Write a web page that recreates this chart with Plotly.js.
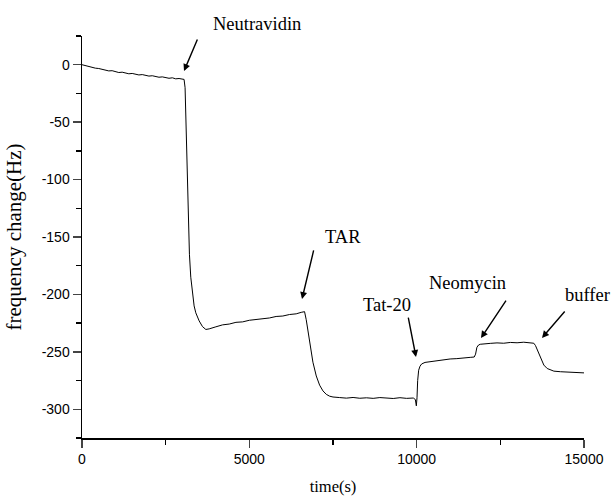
<!DOCTYPE html>
<html>
<head>
<meta charset="utf-8">
<script src="https://cdn.plot.ly/plotly-3.0.1.min.js"></script>
<style>html,body{margin:0;padding:0;background:#fff;}#chart{width:614px;height:496px;}</style>
</head>
<body>
<div id="chart"></div>
<script>
// time (s)
const timeS = [0,100,200,300,400,500,600,700,800,900,1000,1100,1200,1300,1400,1500,1600,1700,1800,1900,2000,2100,2200,2300,2400,2500,2600,2700,2800,2900,3000,3050,3080,3100,3120,3150,3180,3210,3250,3300,3350,3400,3500,3600,3700,3800,3900,4000,4200,4400,4600,4800,5000,5200,5400,5600,5800,6000,6200,6400,6550,6650,6700,6750,6800,6900,7000,7100,7200,7300,7400,7500,7700,7900,8100,8300,8500,8700,8900,9100,9300,9500,9700,9900,9960,9990,10010,10030,10060,10100,10150,10250,10400,10600,10800,11000,11200,11400,11600,11720,11760,11800,11850,11900,12000,12200,12400,12600,12800,13000,13200,13400,13500,13550,13600,13650,13700,13750,13800,13900,14000,14100,14300,14500,14700,14900,15000];
// frequency change (Hz)
const freqHz = [0,-0.8,-1.5,-1.9,-3.0,-3.3,-4.2,-4.6,-5.4,-5.2,-6.1,-6.8,-6.5,-7.4,-7.9,-7.6,-8.5,-8.9,-8.6,-9.5,-9.9,-9.6,-10.5,-10.9,-10.6,-11.5,-11.8,-11.4,-12.3,-12.0,-12.6,-12.8,-20,-45,-75,-110,-140,-165,-185,-200,-210,-216,-223,-228,-230.5,-230,-228.8,-228.2,-226.5,-225.8,-224.3,-223.9,-222.5,-222.0,-220.9,-220.5,-219.2,-218.8,-217.5,-216.9,-215.6,-215.0,-222,-232,-243,-259,-271,-279,-284,-287,-288.6,-289.3,-289.8,-290.3,-289.7,-290.4,-290.0,-290.5,-289.8,-290.3,-290.6,-289.9,-290.5,-290.2,-291.5,-297,-290,-275,-266,-262.5,-260.5,-259.2,-258.5,-257.4,-257.0,-256.2,-255.9,-255.1,-254.8,-254.5,-252,-246,-244,-243.4,-243.0,-242.6,-242.2,-242.5,-241.8,-242.1,-241.6,-241.9,-242.5,-244.5,-248,-252,-256,-259,-261.5,-264.5,-266,-266.8,-267.3,-267.6,-267.9,-268.1,-268.3];

const xTickVals = [0,5000,10000,15000];
const xTickText = ["0","5000","10000","15000"];
const yTickVals = [0,-50,-100,-150,-200,-250,-300];
const yTickText = ["0","-50","-100","-150","-200","-250","-300"];

// annotation labels (label positions as fractions of the plot area)
const labelText = ["Neutravidin","TAR","Tat-20","Neomycin","buffer"];
const labelPX = [0.3486,0.52,0.607,0.767,1.006];
const labelPY = [1.03,0.5,0.33,0.386,0.355];
// arrows in data units
const arrowTipX = [3048,6574,9980,11922,13745];
const arrowTipY = [-5.5,-204,-254.5,-238,-237.9];
const arrowTailX = [3466,6932,9741,12699,14462];
const arrowTailY = [23.3,-160.4,-218.8,-204,-213.5];

const serif = "Liberation Serif, Times New Roman, serif";
const annotations = [];
labelText.forEach((t,i)=>{
  annotations.push({x:labelPX[i],y:labelPY[i],xref:'paper',yref:'paper',text:t,showarrow:false,
    xanchor:'center',yanchor:'middle',font:{family:serif,size:18.5,color:'#000'}});
  annotations.push({x:arrowTipX[i],y:arrowTipY[i],xref:'x',yref:'y',
    ax:arrowTailX[i],ay:arrowTailY[i],axref:'x',ayref:'y',text:'',showarrow:true,
    arrowhead:2,arrowsize:1,arrowwidth:1.4,arrowcolor:'#000'});
});

const trace = {x:timeS,y:freqHz,type:'scatter',mode:'lines',line:{color:'#000',width:1},hoverinfo:'skip'};

const layout = {
  width:614,height:496,
  margin:{l:82,r:30,t:36,b:58},
  paper_bgcolor:'#fff',plot_bgcolor:'#fff',
  showlegend:false,
  font:{family:"Liberation Sans, Arial, sans-serif",size:14,color:'#000'},
  xaxis:{range:[0,15000],tickmode:'array',tickvals:xTickVals,ticktext:xTickText,ticks:'outside',ticklen:8,tickwidth:1.5,
    showline:true,linewidth:1.5,linecolor:'#000',showgrid:false,zeroline:false,
    minor:{tickvals:[2500,7500,12500],ticks:'outside',ticklen:5,tickwidth:1.5,tickcolor:'#000',showgrid:false},
    title:{text:'time(s)',font:{family:serif,size:16.5},standoff:16}},
  yaxis:{range:[-325,25],tickmode:'array',tickvals:yTickVals,ticktext:yTickText,ticks:'outside',ticklen:8,tickwidth:1.5,
    showline:true,linewidth:1.5,linecolor:'#000',showgrid:false,zeroline:false,
    minor:{tickvals:[25,-25,-75,-125,-175,-225,-275,-325],ticks:'outside',ticklen:5,tickwidth:1.5,tickcolor:'#000',showgrid:false},
    title:{text:'frequency change(Hz)',font:{family:serif,size:21},standoff:14}},
  annotations:annotations
};
Plotly.newPlot('chart',[trace],layout,{displayModeBar:false,staticPlot:true});
</script>
</body>
</html>
